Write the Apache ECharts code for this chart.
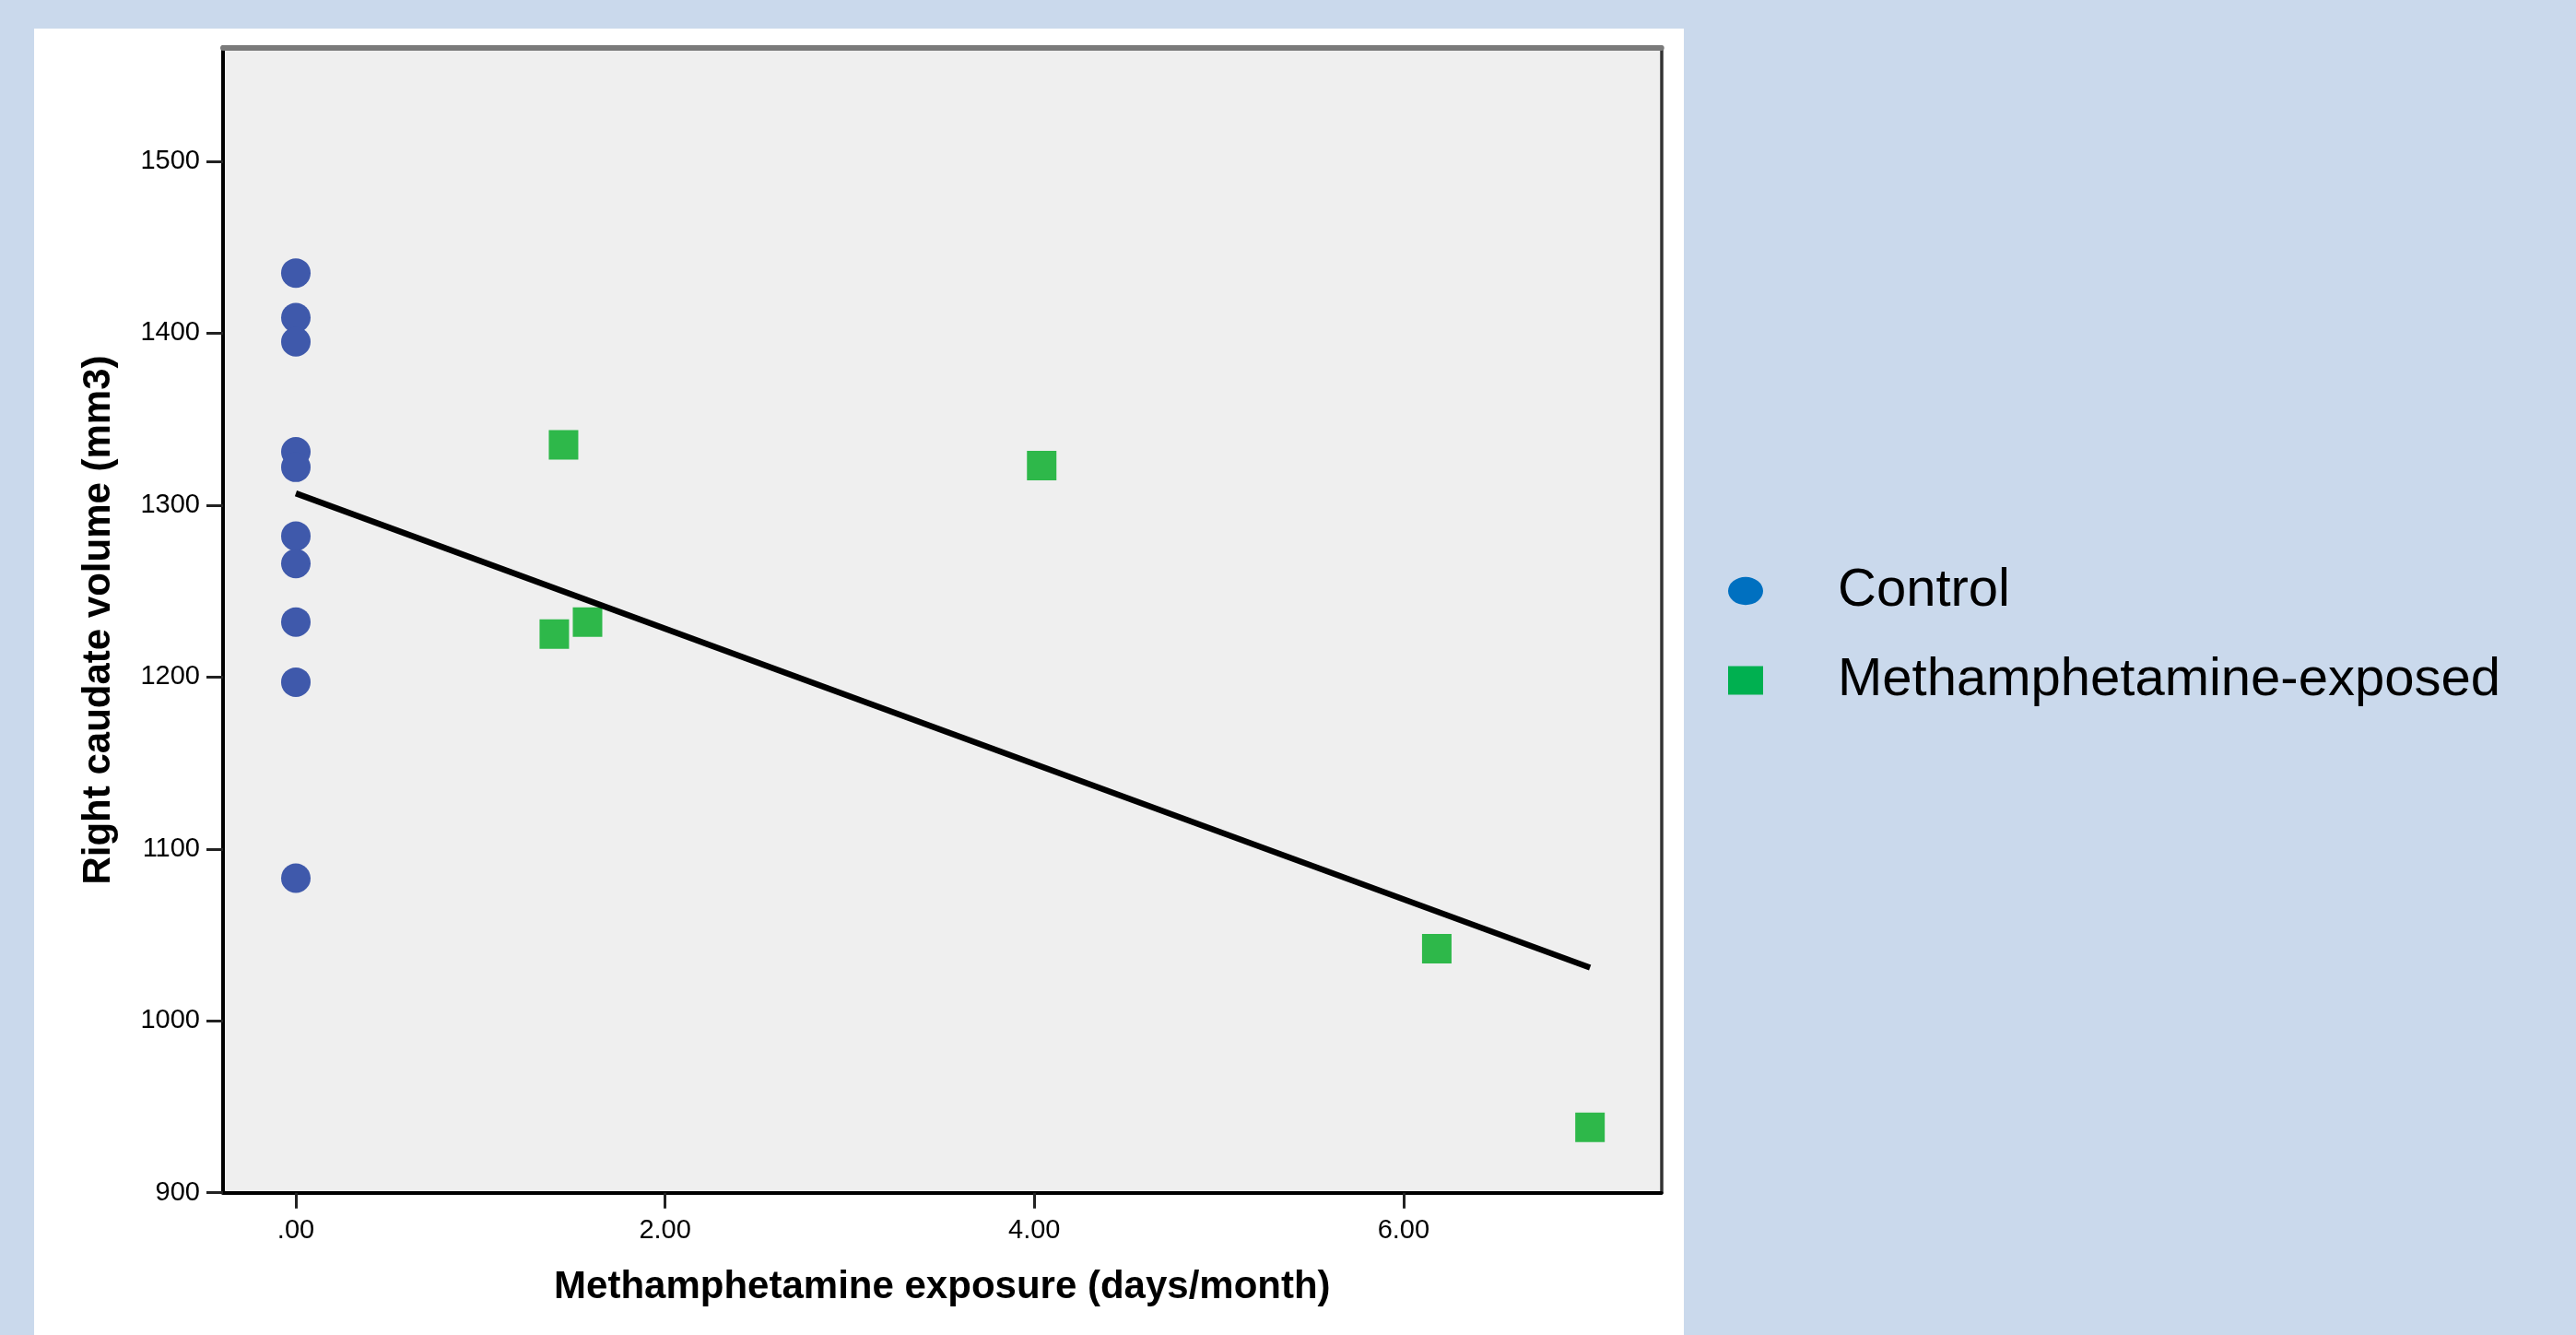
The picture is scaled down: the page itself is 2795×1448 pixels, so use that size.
<!DOCTYPE html>
<html>
<head>
<meta charset="utf-8">
<script src="https://cdn.jsdelivr.net/npm/echarts@6/dist/echarts.min.js"></script>
<style>
  html, body { margin: 0; padding: 0; background: #CAD9EC; }
  #panel { position: absolute; left: 37px; top: 31px; width: 1790px; height: 1417px; background: #ffffff; }
  #chart { position: absolute; left: 0; top: 0; width: 2795px; height: 1448px; }
</style>
</head>
<body>
<div id="panel"></div>
<div id="chart"></div>
<script>
// ---- data ----
const controlX = [0, 0, 0, 0, 0, 0, 0, 0, 0, 0];
const controlY = [1435, 1409, 1395, 1331, 1322, 1282, 1266, 1232, 1197, 1083];
const methX = [1.45, 1.40, 1.58, 4.04, 6.18, 7.01];
const methY = [1335, 1225, 1232, 1323, 1042, 938];
const fitX = [0, 7.01];
const fitY = [1306.8, 1031];
const xTickValues = [0, 2, 4, 6];
const xTickLabels = ['.00', '2.00', '4.00', '6.00'];
const yTickValues = [900, 1000, 1100, 1200, 1300, 1400, 1500];
const yTickLabels = ['900', '1000', '1100', '1200', '1300', '1400', '1500'];
const seriesNames = ['Control', 'Methamphetamine-exposed'];
const xTitle = 'Methamphetamine exposure (days/month)';
const yTitle = 'Right caudate volume (mm3)';

const FONT = '"Liberation Sans", Arial, sans-serif';
const X_MIN = -0.3944, X_MAX = 7.397, Y_MIN = 900, Y_MAX = 1566.3;
const ELLIPSE_ICON = 'path://M50,0 A50,40 0 1 1 50,80 A50,40 0 1 1 50,0 Z';

const zip = (xs, ys) => xs.map((x, i) => [x, ys[i]]);

const chart = echarts.init(document.getElementById('chart'), null, { renderer: 'canvas' });
chart.setOption({
  animation: false,
  backgroundColor: 'transparent',
  grid: {
    left: 242, right: 992.3, top: 51.3, bottom: 154.3,
    show: true, backgroundColor: '#EFEFEF', borderWidth: 0
  },
  legend: {
    orient: 'vertical', left: 1870, top: 607,
    itemWidth: 38, itemHeight: 31, itemGap: 39,
    selectedMode: false,
    textStyle: { fontFamily: FONT, fontSize: 58, color: '#000', lineHeight: 58, padding: [0, 0, 0, 76] },
    data: [
      { name: seriesNames[0], icon: ELLIPSE_ICON, itemStyle: { color: '#0070C0' } },
      { name: seriesNames[1], icon: 'rect', itemStyle: { color: '#00B050' } }
    ]
  },
  xAxis: [{
    type: 'value', min: X_MIN, max: X_MAX, position: 'bottom',
    name: xTitle, nameLocation: 'middle', nameGap: 82,
    nameTextStyle: { fontFamily: FONT, fontSize: 42, fontWeight: 'bold', color: '#000' },
    axisLine: { show: true, onZero: false, lineStyle: { color: '#000', width: 4 } },
    axisTick: { show: true, length: 17, customValues: xTickValues, lineStyle: { color: '#222', width: 3 } },
    axisLabel: {
      margin: 27, fontFamily: FONT, fontSize: 29, color: '#000',
      customValues: xTickValues,
      formatter: v => xTickLabels[xTickValues.indexOf(v)] ?? ''
    },
    splitLine: { show: false }
  }, {
    type: 'value', min: X_MIN, max: X_MAX, position: 'top',
    axisLine: { show: true, onZero: false, lineStyle: { color: '#7a7a7a', width: 6 } },
    axisTick: { show: false }, axisLabel: { show: false }, splitLine: { show: false }
  }],
  yAxis: [{
    type: 'value', min: Y_MIN, max: Y_MAX, position: 'left',
    name: yTitle, nameLocation: 'middle', nameGap: 114, nameRotate: 90,
    nameTextStyle: { fontFamily: FONT, fontSize: 42, fontWeight: 'bold', color: '#000' },
    axisLine: { show: true, onZero: false, lineStyle: { color: '#000', width: 4 } },
    axisTick: { show: true, length: 18, customValues: yTickValues, lineStyle: { color: '#222', width: 3 } },
    axisLabel: {
      margin: 25, fontFamily: FONT, fontSize: 29, color: '#000',
      customValues: yTickValues,
      formatter: v => yTickLabels[yTickValues.indexOf(v)] ?? ''
    },
    splitLine: { show: false }
  }, {
    type: 'value', min: Y_MIN, max: Y_MAX, position: 'right',
    axisLine: { show: true, onZero: false, lineStyle: { color: '#333', width: 3.5 } },
    axisTick: { show: false }, axisLabel: { show: false }, splitLine: { show: false }
  }],
  series: [{
    name: seriesNames[0], type: 'scatter', symbol: 'circle', symbolSize: 32,
    itemStyle: { color: '#3F59AB', opacity: 1 },
    data: zip(controlX, controlY), z: 3
  }, {
    name: seriesNames[1], type: 'scatter', symbol: 'rect', symbolSize: 32,
    itemStyle: { color: '#2EB84A', opacity: 1 },
    data: zip(methX, methY), z: 3
  }, {
    name: 'fit', type: 'line', symbol: 'none', silent: true,
    lineStyle: { color: '#000', width: 6.5 },
    data: zip(fitX, fitY), z: 4
  }]
});
</script>
</body>
</html>
